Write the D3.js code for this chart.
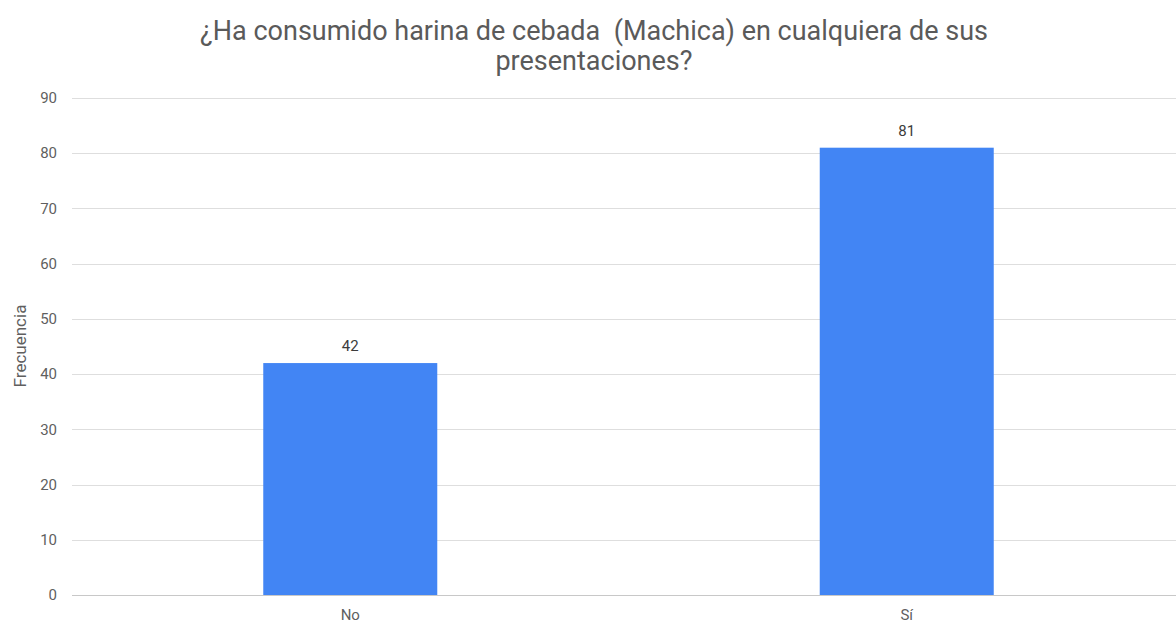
<!DOCTYPE html>
<html>
<head>
<meta charset="utf-8">
<script src="https://cdn.jsdelivr.net/npm/d3@7"></script>
<style>
  body { margin: 0; background: #fff; }
  svg { display: block; font-family: Roboto, Arial, sans-serif; }
  .title { white-space: pre; }
</style>
</head>
<body>
<svg id="chart" width="1176" height="628"></svg>
<script>
// data
var categories = ["No", "Sí"]
var values = [42, 81]
var yTicks = [0, 10, 20, 30, 40, 50, 60, 70, 80, 90]
var titleLines = ["¿Ha consumido harina de cebada  (Machica) en cualquiera de sus", "presentaciones?"]
var yTitle = "Frecuencia"

var width = 1176,
    height = 628,
    margin = { top: 98, right: 0, bottom: 33, left: 72 }

var svg = d3.select("#chart")

var x = d3.scaleBand()
    .domain(categories)
    .range([margin.left, 1185])
    .paddingInner(0.6873)
    .paddingOuter(0.3437)

var y = d3.scaleLinear()
    .domain([0, 90])
    .range([height - margin.bottom, margin.top])

// gridlines
svg.append("g")
    .selectAll("line")
    .data(yTicks)
    .enter().append("line")
    .attr("x1", margin.left)
    .attr("x2", width)
    .attr("y1", function(d) { return Math.round(y(d)) + 0.5 })
    .attr("y2", function(d) { return Math.round(y(d)) + 0.5 })
    .style("stroke", function(d) { return d === 0 ? "#c8c8c8" : "#dedede" })
    .style("stroke-width", "1px")

// y tick labels
svg.append("g")
    .selectAll("text")
    .data(yTicks)
    .enter().append("text")
    .attr("x", 57)
    .attr("y", function(d) { return y(d) })
    .attr("dy", ".35em")
    .attr("text-anchor", "end")
    .style("font-size", "15px")
    .style("fill", "#5f5f5f")
    .text(function(d) { return d })

// bars
svg.append("g")
    .selectAll("rect")
    .data(values)
    .enter().append("rect")
    .attr("x", function(d, i) { return x(categories[i]) })
    .attr("y", function(d) { return y(d) })
    .attr("width", x.bandwidth())
    .attr("height", function(d) { return y(0) - y(d) })
    .style("fill", "#4285f4")

// value labels
svg.append("g")
    .selectAll("text")
    .data(values)
    .enter().append("text")
    .attr("x", function(d, i) { return x(categories[i]) + x.bandwidth() / 2 })
    .attr("y", function(d) { return y(d) - 12 })
    .attr("text-anchor", "middle")
    .style("font-size", "15px")
    .style("fill", "#3c3c3c")
    .text(function(d) { return d })

// x labels
svg.append("g")
    .selectAll("text")
    .data(categories)
    .enter().append("text")
    .attr("x", function(d) { return x(d) + x.bandwidth() / 2 })
    .attr("y", height - 8)
    .attr("text-anchor", "middle")
    .style("font-size", "15px")
    .style("fill", "#5f5f5f")
    .text(function(d) { return d })

// title
svg.append("g")
    .selectAll("text")
    .data(titleLines)
    .enter().append("text")
    .attr("class", "title")
    .attr("x", 594)
    .attr("y", function(d, i) { return 40 + i * 30 })
    .attr("text-anchor", "middle")
    .style("font-size", "27px")
    .style("fill", "#5a5a5a")
    .text(function(d) { return d })

// y axis title
svg.append("text")
    .attr("transform", "translate(26,346) rotate(-90)")
    .attr("text-anchor", "middle")
    .style("font-size", "17px")
    .style("fill", "#5f5f5f")
    .text(yTitle)
</script>
</body>
</html>
